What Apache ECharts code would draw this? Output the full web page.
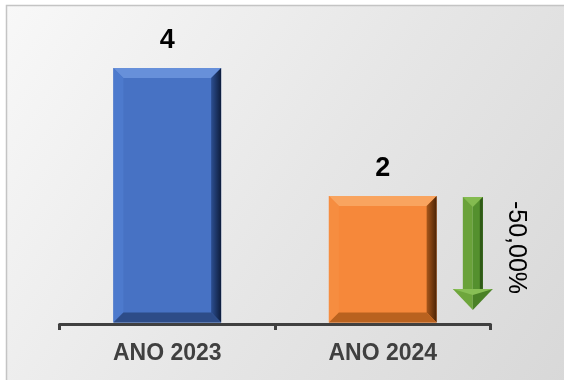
<!DOCTYPE html>
<html>
<head>
<meta charset="utf-8">
<script src="https://cdn.jsdelivr.net/npm/echarts@6/dist/echarts.min.js"></script>
<style>
html,body{margin:0;padding:0;background:#fff;}
#c{width:564px;height:380px;}
</style>
</head>
<body>
<div id="c"></div>
<script>
const categories = ['ANO 2023', 'ANO 2024'];
const values = [4, 2];
const changeText = '-50,00%';
const changeFrom = 2;     // arrow starts at the 2024 value
const changeTo = 0.22;    // arrow tip (estimated)

const palettes = [
  {face:'#4772c4', top:'#6790da', left:'#4d7acd', right:['#2c4f92','#0e1d3c'], bottom:'#2d4c88'},
  {face:'#f6883a', top:'#f9a45f', left:'#f68d40', right:['#a8571a','#4a2306'], bottom:'#b9621f'}
];

const chart = echarts.init(document.getElementById('c'));

function barItem(params, api) {
  const idx = api.value(0);
  const t = api.coord([idx, api.value(1)]);
  const b0 = api.coord([idx, 0]);
  const bw = api.size([1, 0])[0] * 0.5;
  const x0 = t[0] - bw / 2, x1 = t[0] + bw / 2, y0 = t[1], y1 = b0[1] - 1.5;
  const b = 10;
  const p = palettes[params.dataIndex];
  return {
    type: 'group',
    children: [
      {type:'rect', shape:{x:x0, y:y0, width:x1-x0, height:y1-y0}, style:{fill:p.face}},
      {type:'polygon', shape:{points:[[x0,y0],[x1,y0],[x1-b,y0+b],[x0+b,y0+b]]}, style:{fill:p.top}},
      {type:'polygon', shape:{points:[[x0,y0],[x0+b,y0+b],[x0+b,y1-b],[x0,y1]]}, style:{fill:p.left}},
      {type:'polygon', shape:{points:[[x1,y0],[x1,y1],[x1-b,y1-b],[x1-b,y0+b]]},
        style:{fill:new echarts.graphic.LinearGradient(0,0,1,0,[{offset:0,color:p.right[0]},{offset:1,color:p.right[1]}])}},
      {type:'polygon', shape:{points:[[x0,y1],[x1,y1],[x1-b,y1-b],[x0+b,y1-b]]}, style:{fill:p.bottom}},
      {type:'text', style:{text:String(api.value(1)), x:t[0], y:y0-14, align:'center', verticalAlign:'bottom',
        fill:'#000', font:'bold 27px "Liberation Sans", Arial, sans-serif'}}
    ]
  };
}

function arrowItem(params, api) {
  const idx = api.value(0);
  const top = api.coord([idx, api.value(1)]);
  const tip = api.coord([idx, api.value(2)]);
  const band = api.size([1, 0])[0];
  const cx = top[0] + band * 0.418;
  const yt = top[1] + 1, yb = tip[1];
  const sw = 10, hw = 20, hh = 21;
  const yh = yb - hh;
  return {
    type: 'group',
    children: [
      {type:'polygon', shape:{points:[[cx-sw,yt],[cx,yt],[cx,yh],[cx-sw,yh]]}, style:{fill:'#6aa23a'}},
      {type:'polygon', shape:{points:[[cx,yt],[cx+sw,yt],[cx+sw,yh],[cx,yh]]}, style:{fill:'#54902e'}},
      {type:'polygon', shape:{points:[[cx+sw-3,yt],[cx+sw,yt],[cx+sw,yh],[cx+sw-3,yh]]}, style:{fill:'#2f5a16'}},
      {type:'polygon', shape:{points:[[cx-sw,yt],[cx+sw,yt],[cx,yt+10]]}, style:{fill:'#84bb50'}},
      {type:'polygon', shape:{points:[[cx-hw,yh],[cx,yh],[cx,yb]]}, style:{fill:'#6ea63c'}},
      {type:'polygon', shape:{points:[[cx,yh],[cx+hw,yh],[cx,yb]]}, style:{fill:'#4a8126'}},
      {type:'polygon', shape:{points:[[cx-hw,yh],[cx+hw,yh],[cx,yh+6]]}, style:{fill:'#88bf55'}},
      {type:'text', rotation:-Math.PI/2, x:cx + 43, y:(yt + yb) / 2 - 6,
        style:{text:changeText, x:0, y:0, align:'center', verticalAlign:'middle',
          fill:'#000', font:'25px "Liberation Sans", Arial, sans-serif'}}
    ]
  };
}

chart.setOption({
  animation: false,
  graphic: [{
    type: 'rect', z: -10, silent: true,
    shape: {x: 6.5, y: 5.5, width: 600, height: 400},
    style: {
      fill: new echarts.graphic.LinearGradient(0, 0, 1, 1, [
        {offset: 0, color: '#f8f8f8'}, {offset: 0.5, color: '#e6e6e6'}, {offset: 1, color: '#d6d6d6'}
      ]),
      stroke: '#c4c4c4', lineWidth: 1.5
    }
  }],
  grid: {left: 59.5, right: 73.5, top: 4, bottom: 56},
  xAxis: {
    type: 'category',
    data: categories,
    axisLine: {show: true, lineStyle: {color: '#404040', width: 3}},
    axisTick: {show: true, length: 6, lineStyle: {color: '#404040', width: 3}},
    axisLabel: {color: '#404040', fontWeight: 'bold', fontSize: 23, margin: 18,
      fontFamily: '"Liberation Sans", Arial, sans-serif'}
  },
  yAxis: {type: 'value', min: 0, max: 5, show: false},
  series: [
    {type: 'custom', renderItem: barItem, data: values.map((v, i) => [i, v]), z: 2},
    {type: 'custom', renderItem: arrowItem, data: [[1, changeFrom, changeTo]], z: 3}
  ]
});
</script>
</body>
</html>
